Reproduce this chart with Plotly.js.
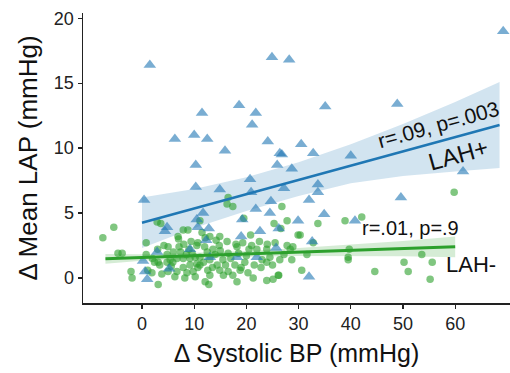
<!DOCTYPE html>
<html><head><meta charset="utf-8">
<script src="https://cdn.plot.ly/plotly-3.0.1.min.js"></script>
<style>html,body{margin:0;padding:0;background:#fff}#chart{width:510px;height:373px}</style>
</head><body><div id="chart"></div>
<script>
// LAH+ (blue triangles)
const lahPosX = [1.5,24.9,28.2,18.6,11.5,21.8,21.1,6.3,10.0,12.5,24.1,15.9,26.4,26.8,69.2,35.1,48.9,30.5,32.8,40.0,10.3,25.9,28.7,10.3,14.9,20.7,27.2,20.9,0.4,24.7,21.8,11.7,24.5,10.5,19.2,4.8,4.4,10.7,12.8,26.2,22.6,12.3,19.0,9.2,2.9,25.7,18.2,22.0,13.0,0.2,0.6,1.0,5.2,61.5,33.7,33.7,32.0,49.6,34.9,29.9,40.8,32.6,32.0];
const lahPosY = [16.4,17.0,16.8,13.3,12.7,12.7,11.8,10.7,11.0,10.7,10.5,9.8,9.6,9.5,19.0,13.2,13.4,10.3,9.6,9.4,8.7,8.7,8.4,7.0,6.8,7.6,6.9,6.6,6.0,5.9,5.3,5.0,5.0,4.5,4.5,3.9,3.6,3.9,3.8,3.8,3.6,2.9,3.2,2.2,2.0,2.3,1.6,1.6,1.6,1.3,0.5,-0.1,0.7,8.2,7.2,6.6,6.0,6.2,4.9,4.4,4.4,2.8,0.1];

// LAH- (green circles)
const lahNegX = [59.8,33.7,38.9,42.1,30.3,32.8,31.6,39.7,39.5,39.5,50.2,53.6,55.6,44.6,51.0,55.2,30.6,16.5,16.3,17.4,26.8,19.5,11.1,25.3,27.8,26.6,29.9,12.1,13.0,14.9,16.3,10.7,18.2,14.8,19.3,25.5,27.8,28.9,20.5,22.0,23.9,12.5,16.5,14.0,27.2,10.2,11.1,13.0,15.5,19.7,23.9,26.4,28.7,11.1,14.4,17.8,22.8,16.5,18.8,10.7,14.9,17.4,20.3,26.1,23.9,25.1,12.1,12.8,18.2,10.2,13.0,-7.5,-5.4,-4.6,-3.8,0.8,0.8,2.9,3.6,6.9,7.9,8.8,-2.1,-1.9,3.1,3.1,4.2,5.0,7.1,9.0,9.4,10.5,4.8,6.7,7.9,3.4,4.8,5.9,1.9,3.8,5.0,6.7,7.9,9.2,10.5,8.6,9.8,6.3,8.2,1.1,5.4,9.2,21.3,26.2,28.4,2.0,6.0,8.5,12.0,15.0,17.0,20.0,21.5,24.5,13.5,18.5,11.5,7.0,20.8,22.5,3.0,5.6,7.4,11.8,14.2,16.0,18.0,21.0,23.0,25.0,9.6,13.6,2.4,19.0,24.0,15.6,8.0,12.6];
const lahNegY = [6.6,4.2,4.4,4.7,3.3,2.7,1.8,2.2,1.6,1.4,1.2,1.8,1.2,0.5,0.5,-0.1,0.6,6.2,5.7,5.5,5.5,4.6,4.4,4.2,4.4,3.8,3.3,3.1,3.2,3.2,2.8,2.7,2.4,2.5,2.7,2.7,2.5,2.4,2.2,2.2,2.2,2.0,1.9,1.8,1.8,1.6,1.6,1.4,1.4,1.2,1.2,1.4,1.4,1.0,1.0,1.0,0.8,0.5,0.6,0.8,0.6,0.2,0.4,0.2,-0.2,-0.1,-0.3,-0.5,-0.3,0.1,0.2,3.1,3.9,1.9,1.9,2.7,1.8,4.3,4.2,3.2,3.7,3.7,0.5,0.0,-0.5,1.2,2.5,2.4,2.4,2.2,2.8,2.5,1.8,1.5,1.5,1.0,1.2,1.2,0.4,0.3,0.5,0.5,0.8,1.0,1.1,0.4,0.5,0.1,0.0,0.6,1.4,1.5,0.0,0.2,2.2,1.5,2.0,1.8,2.4,2.1,1.5,1.7,1.0,1.6,0.8,1.9,3.5,3.0,3.3,2.8,2.2,0.9,2.0,1.2,2.9,1.0,2.6,2.5,1.4,1.0,1.9,2.2,1.2,0.8,2.6,0.2,2.6,0.6];

// Regression lines and confidence bands
const fitPosX = [0,10,20,30,40,50,60,68.5];
const fitPosY = [4.25,5.35,6.45,7.55,8.65,9.75,10.85,11.78];
const fitPosHi = [6.2,6.85,7.75,8.9,10.3,11.85,13.55,15.08];
const fitPosLo = [2.3,3.85,5.15,6.3,7.3,7.85,8.2,8.47];

const fitNegX = [-7,0,10,20,30,40,50,60];
const fitNegY = [1.47,1.57,1.71,1.85,1.99,2.12,2.26,2.40];
const fitNegHi = [1.85,1.82,1.93,2.07,2.3,2.55,2.85,3.2];
const fitNegLo = [1.1,1.32,1.49,1.63,1.68,1.69,1.67,1.6];

const xTicks = [0,10,20,30,40,50,60];
const yTicks = [0,5,10,15,20];

const BLUE = '#1f77b4', GREEN = '#2ca02c';
const FONT = 'Arial, "Liberation Sans", sans-serif';

function band(xs, lo, hi, color){
  return [
    {x: xs, y: lo, mode:'lines', line:{width:0}, hoverinfo:'skip', showlegend:false, type:'scatter'},
    {x: xs, y: hi, mode:'lines', line:{width:0}, fill:'tonexty', fillcolor:color, hoverinfo:'skip', showlegend:false, type:'scatter'}
  ];
}

const data = [
  ...band(fitPosX, fitPosLo, fitPosHi, 'rgba(31,119,180,0.2)'),
  ...band(fitNegX, fitNegLo, fitNegHi, 'rgba(44,160,44,0.2)'),
  {x: lahNegX, y: lahNegY, mode:'markers', type:'scatter', showlegend:false,
   marker:{symbol:'circle', size:7.5, color:GREEN, opacity:0.6, line:{width:0}}},
  {x: lahPosX, y: lahPosY, mode:'markers', type:'scatter', showlegend:false,
   marker:{symbol:'triangle-up', size:11, color:BLUE, opacity:0.6, line:{width:0}}},
  {x: fitPosX, y: fitPosY, mode:'lines', type:'scatter', showlegend:false, line:{color:BLUE, width:2.5}},
  {x: fitNegX, y: fitNegY, mode:'lines', type:'scatter', showlegend:false, line:{color:GREEN, width:3}}
];

const layout = {
  width:510, height:373,
  margin:{l:83, r:0, t:13, b:70},
  paper_bgcolor:'#fff', plot_bgcolor:'#fff',
  font:{family:FONT, color:'#111'},
  showlegend:false,
  xaxis:{range:[-11.3,70.5], tickvals:xTicks, ticktext:xTicks.map(String),
    showline:true, linecolor:'#222', linewidth:1.5, ticks:'outside', ticklen:4, tickwidth:1.2, tickcolor:'#222',
    showgrid:false, zeroline:false, tickfont:{size:18, color:'#222'},
    title:{text:'Δ Systolic BP (mmHg)', font:{size:25, color:'#111'}, standoff:11}},
  yaxis:{range:[-1.93,20.4], tickvals:yTicks, ticktext:yTicks.map(String),
    showline:true, linecolor:'#222', linewidth:1.5, ticks:'outside', ticklen:4, tickwidth:1.2, tickcolor:'#222',
    showgrid:false, zeroline:false, tickfont:{size:18, color:'#222'},
    title:{text:'Δ Mean LAP (mmHg)', font:{size:26, color:'#111'}, standoff:9}},
  annotations:[
    {x:56.8, y:11.8, xref:'x', yref:'y', text:'r=.09, p=.003', showarrow:false, textangle:-15.5,
     font:{size:21, color:'#111'}},
    {x:60.6, y:9.5, xref:'x', yref:'y', text:'LAH+', showarrow:false, textangle:-15.5,
     font:{size:24, color:'#111'}},
    {x:51.4, y:3.85, xref:'x', yref:'y', text:'r=.01, p=.9', showarrow:false,
     font:{size:20, color:'#111'}},
    {x:63.0, y:1.05, xref:'x', yref:'y', text:'LAH-', showarrow:false,
     font:{size:22, color:'#111'}}
  ]
};

Plotly.newPlot('chart', data, layout, {staticPlot:true, displayModeBar:false});
</script>
</body></html>
